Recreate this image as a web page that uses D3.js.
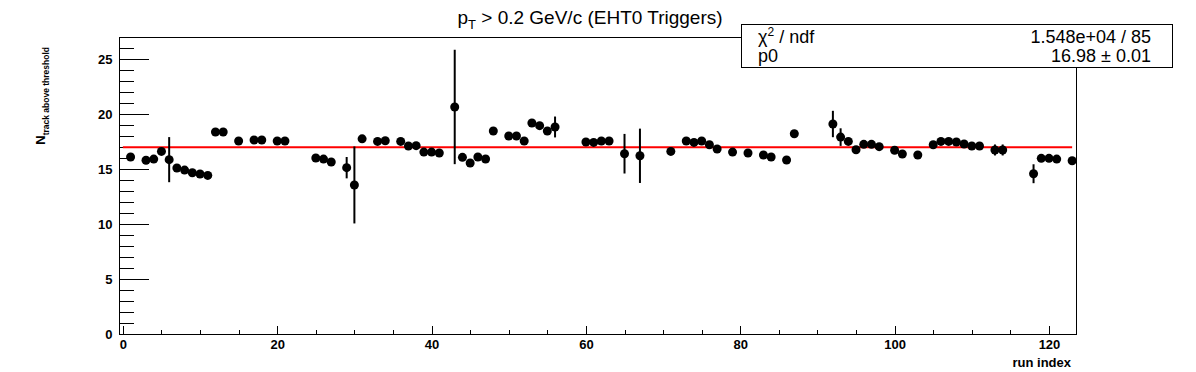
<!DOCTYPE html>
<html>
<head>
<meta charset="utf-8">
<script src="https://cdn.jsdelivr.net/npm/d3@7"></script>
<style>
  body { margin: 0; background: #fff; }
  text { font-family: "Liberation Sans", Arial, Helvetica, sans-serif; }
</style>
</head>
<body>
<div id="chart"></div>
<script>
// run index of each filled bin
var runs = [1, 3, 4, 5, 6, 7, 8, 9, 10, 11, 12, 13, 15, 17, 18, 20, 21, 25, 26, 27,
  29, 30, 31, 33, 34, 36, 37, 38, 39, 40, 41, 43, 44, 45, 46, 47, 48, 50, 51, 52,
  53, 54, 55, 56, 60, 61, 62, 63, 65, 67, 71, 73, 74, 75, 76, 77, 79, 81, 83, 84,
  86, 87, 92, 93, 94, 95, 96, 97, 98, 100, 101, 103, 105, 106, 107, 108, 109, 110, 111, 113,
  114, 118, 119, 120, 121, 123];
// N track above threshold
var values = [16.09, 15.80, 15.90, 16.60, 15.85, 15.09, 14.90, 14.66, 14.55, 14.42, 18.36, 18.36, 17.55, 17.64, 17.64, 17.55, 17.55, 16.00, 15.90, 15.64,
  15.12, 13.55, 17.74, 17.51, 17.57, 17.51, 17.09, 17.12, 16.54, 16.54, 16.45, 20.64, 16.06, 15.55, 16.09, 15.91, 18.45, 18.00, 18.00, 17.55,
  19.18, 18.94, 18.45, 18.82, 17.45, 17.42, 17.55, 17.55, 16.39, 16.20, 16.60, 17.55, 17.42, 17.55, 17.20, 16.82, 16.54, 16.45, 16.27, 16.09,
  15.82, 18.20, 19.09, 17.90, 17.51, 16.75, 17.24, 17.24, 17.03, 16.70, 16.36, 16.27, 17.20, 17.51, 17.51, 17.45, 17.27, 17.09, 17.09, 16.73,
  16.73, 14.57, 15.97, 15.97, 15.90, 15.75];
var errors = [0.3, 0.3, 0.3, 0.3, 2.05, 0.3, 0.3, 0.3, 0.3, 0.3, 0.3, 0.3, 0.3, 0.3, 0.3, 0.3, 0.3, 0.3, 0.3, 0.3,
  0.97, 3.5, 0.3, 0.3, 0.3, 0.3, 0.3, 0.3, 0.3, 0.3, 0.3, 5.2, 0.3, 0.3, 0.3, 0.3, 0.3, 0.3, 0.3, 0.3,
  0.3, 0.3, 0.3, 0.95, 0.3, 0.3, 0.3, 0.3, 1.8, 2.47, 0.3, 0.3, 0.3, 0.3, 0.3, 0.3, 0.3, 0.3, 0.3, 0.3,
  0.3, 0.3, 1.2, 0.8, 0.3, 0.3, 0.3, 0.3, 0.3, 0.3, 0.3, 0.3, 0.3, 0.3, 0.3, 0.3, 0.3, 0.3, 0.3, 0.5,
  0.5, 0.86, 0.3, 0.3, 0.3, 0.3];

var fitValue = 16.98;
var fitRange = [0, 123];
var xTicks = [0, 20, 40, 60, 80, 100, 120];
var xMinorTicks = d3.range(0, 124, 5).filter(function(d){ return d % 20 !== 0; });
var yTicks = [0, 5, 10, 15, 20, 25];
var yMinorTicks = d3.range(0, 28, 1).filter(function(d){ return d % 5 !== 0; });
var statsLabels = ["χ2 / ndf", "p0"];
var statsValues = ["1.548e+04 / 85", "16.98 ± 0.01"];

var width = 1196, height = 372;
var frame = {left: 119, right: 1076, top: 37, bottom: 334};

var svg = d3.select("#chart").append("svg")
  .attr("width", width)
  .attr("height", height);

var x = d3.scaleLinear().domain([-0.5, 123.5]).range([frame.left, frame.right]);
var y = d3.scaleLinear().domain([0, 27]).range([frame.bottom, frame.top]);

// frame
svg.append("rect")
  .attr("x", frame.left + 0.5).attr("y", frame.top + 0.5)
  .attr("width", frame.right - frame.left).attr("height", frame.bottom - frame.top)
  .attr("fill", "none").attr("stroke", "#000").attr("stroke-width", 1);

// x axis
var gx = svg.append("g").attr("transform", "translate(0," + (frame.bottom + 0.5) + ")");
gx.call(d3.axisBottom(x).tickValues(xMinorTicks).tickSize(-4.5).tickSizeOuter(0).tickFormat(""));
var gx2 = svg.append("g").attr("transform", "translate(0," + (frame.bottom + 0.5) + ")");
gx2.call(d3.axisBottom(x).tickValues(xTicks).tickSize(-9).tickSizeOuter(0).tickPadding(5).tickFormat(d3.format("d")));

// y axis
var gy = svg.append("g").attr("transform", "translate(" + (frame.left + 0.5) + ",0)");
gy.call(d3.axisLeft(y).tickValues(yMinorTicks).tickSize(-14).tickSizeOuter(0).tickFormat(""));
var gy2 = svg.append("g").attr("transform", "translate(" + (frame.left + 0.5) + ",0)");
gy2.call(d3.axisLeft(y).tickValues(yTicks).tickSize(-29).tickSizeOuter(0).tickPadding(7).tickFormat(d3.format("d")));

svg.selectAll(".domain").remove();
svg.selectAll(".tick line").attr("stroke", "#000").attr("shape-rendering", "crispEdges");
svg.selectAll(".tick text")
  .attr("fill", "#000")
  .style("font-family", "'Liberation Sans', Arial, sans-serif")
  .style("font-size", "13px")
  .style("font-weight", "bold");

// axis titles
svg.append("text")
  .attr("x", 1071).attr("y", 367)
  .attr("text-anchor", "end")
  .style("font-size", "13px").style("font-weight", "bold")
  .text("run index");

var ylab = svg.append("text")
  .attr("transform", "translate(45,47) rotate(-90)")
  .attr("text-anchor", "end")
  .style("font-weight", "bold");
ylab.append("tspan").style("font-size", "13px").text("N");
ylab.append("tspan").style("font-size", "8.5px").attr("dy", 4).text("track above threshold");

// fit line
svg.append("line")
  .attr("x1", x(fitRange[0])).attr("x2", x(fitRange[1]))
  .attr("y1", y(fitValue)).attr("y2", y(fitValue))
  .attr("stroke", "#ff0000").attr("stroke-width", 2);

// data points with error bars
var pts = runs.map(function(r, i){ return {run: r, val: values[i], err: errors[i]}; });

svg.append("g").selectAll("line")
  .data(pts)
  .enter().append("line")
  .attr("x1", function(d){ return x(d.run); })
  .attr("x2", function(d){ return x(d.run); })
  .attr("y1", function(d){ return y(d.val + d.err); })
  .attr("y2", function(d){ return y(d.val - d.err); })
  .attr("stroke", "#000").attr("stroke-width", 2);

svg.append("g").selectAll("circle")
  .data(pts)
  .enter().append("circle")
  .attr("cx", function(d){ return x(d.run); })
  .attr("cy", function(d){ return y(d.val); })
  .attr("r", 4.5)
  .attr("fill", "#000");

// title
var title = svg.append("text")
  .attr("x", 590).attr("y", 24)
  .attr("text-anchor", "middle")
  .style("font-size", "19px");
title.append("tspan").text("p");
title.append("tspan").style("font-size", "13px").attr("dy", 5).text("T");
title.append("tspan").attr("dy", -5).text(" > 0.2 GeV/c (EHT0 Triggers)");

// stats box
var stats = svg.append("g");
stats.append("rect")
  .attr("x", 741.5).attr("y", 24.5).attr("width", 431).attr("height", 43)
  .attr("fill", "#fff").attr("stroke", "#000").attr("stroke-width", 1);
var rowY = [43, 62];
var l1 = stats.append("text").attr("x", 758).attr("y", rowY[0]).style("font-size", "18px");
l1.append("tspan").text("χ");
l1.append("tspan").style("font-size", "12px").attr("dy", -7).text("2");
l1.append("tspan").attr("dy", 7).text(" / ndf");
stats.append("text").attr("x", 758).attr("y", rowY[1]).style("font-size", "18px").text(statsLabels[1]);
stats.selectAll(".val")
  .data(statsValues)
  .enter().append("text")
  .attr("class", "val")
  .attr("x", 1151).attr("y", function(d, i){ return rowY[i]; })
  .attr("text-anchor", "end")
  .style("font-size", "18px")
  .text(function(d){ return d; });
</script>
</body>
</html>
